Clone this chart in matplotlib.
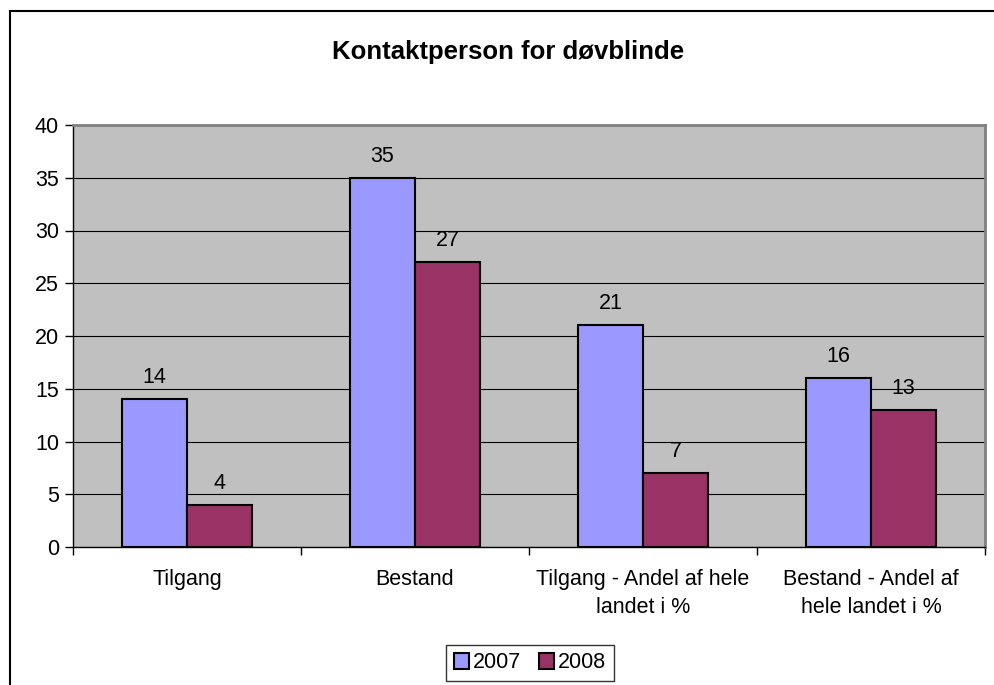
import matplotlib.pyplot as plt
import numpy as np
from matplotlib.lines import Line2D

plt.rcParams['font.family'] = ['Liberation Sans', 'DejaVu Sans']

# data
categories = ['Tilgang', 'Bestand', 'Tilgang - Andel af hele\nlandet i %', 'Bestand - Andel af\nhele landet i %']
v2007 = [14, 35, 21, 16]
v2008 = [4, 27, 7, 13]
series = ['2007', '2008']

fig = plt.figure(figsize=(9.95, 6.85), dpi=100)
ax = fig.add_axes([73 / 995, 1 - 547 / 685, 912 / 995, 422 / 685])
ax.set_facecolor('#C0C0C0')

x = np.arange(len(categories))
w = 0.286
b1 = ax.bar(x - w / 2, v2007, w, color='#9999FF', edgecolor='black', linewidth=1.5, label=series[0], zorder=3)
b2 = ax.bar(x + w / 2, v2008, w, color='#993366', edgecolor='black', linewidth=1.5, label=series[1], zorder=3)

for bars, vals in [(b1, v2007), (b2, v2008)]:
    for r, v in zip(bars, vals):
        ax.annotate(str(v), (r.get_x() + r.get_width() / 2, v), xytext=(0, 8),
                    textcoords='offset points', ha='center', va='bottom', fontsize=15.5)

ax.set_xlim(-0.5, 3.5)
ax.set_ylim(0, 40)
ax.set_yticks(range(0, 41, 5))
ax.yaxis.grid(True, color='black', linewidth=0.8, zorder=1)
ax.set_axisbelow(True)

ax.set_xticks(x)
ax.set_xticklabels(categories, fontsize=15.5, linespacing=1.4)
ax.tick_params(axis='x', length=0, pad=16)
ax.set_xticks(np.arange(-0.5, 4, 1), minor=True)
ax.tick_params(axis='x', which='minor', length=6, direction='out', width=1)
ax.tick_params(axis='y', labelsize=15.5, length=6, width=1, direction='out', pad=4)

for s in ['top', 'right']:
    ax.spines[s].set_color('#808080')
    ax.spines[s].set_linewidth(2)
for s in ['left', 'bottom']:
    ax.spines[s].set_color('black')
    ax.spines[s].set_linewidth(1)

fig.text(508 / 995, 1 - 52 / 685, 'Kontaktperson for døvblinde', ha='center', va='center',
         fontsize=18.5, fontweight='bold')

leg = fig.legend(loc='center', bbox_to_anchor=(530 / 995, 1 - 663 / 685), ncol=2, fontsize=15.5,
                 frameon=True, fancybox=False, edgecolor='black', handlelength=0.7,
                 handleheight=0.7, handletextpad=0.2, columnspacing=0.8, borderpad=0.35)
leg.get_frame().set_linewidth(1)

# chart border (left and top visible)
fig.add_artist(Line2D([10 / 995, 10 / 995], [0, 1 - 11 / 685], transform=fig.transFigure, color='black', lw=1.5))
fig.add_artist(Line2D([10 / 995, 1], [1 - 11 / 685, 1 - 11 / 685], transform=fig.transFigure, color='black', lw=1.5))

fig.savefig('out.png', dpi=100)
